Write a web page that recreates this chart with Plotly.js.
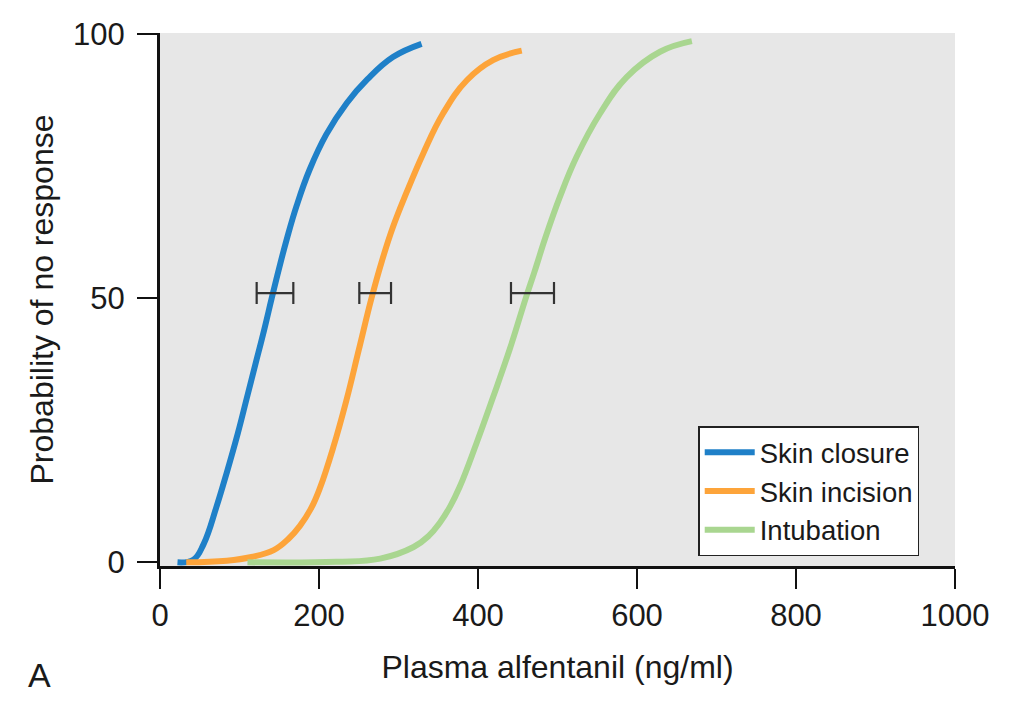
<!DOCTYPE html>
<html><head><meta charset="utf-8">
<script src="https://cdn.plot.ly/plotly-3.0.1.min.js"></script>
<style>body{margin:0;background:#fff}#chart{width:1024px;height:708px}</style>
</head><body><div id="chart"></div>
<script>
// Skin closure curve
const closureX = [22, 42, 55, 71, 84, 98, 109, 120, 131, 140.5, 150, 160, 172, 188, 209, 235, 261, 293, 329];
const closureY = [0, 0.5, 3.5, 10.5, 17, 24.5, 31, 37.5, 44, 50, 55.8, 61.5, 67.6, 74.3, 81, 87, 91.5, 95.7, 98.2];
// Skin incision curve
const incisionX = [33, 84, 115, 143, 162, 176, 190, 201, 218, 234.5, 250, 266, 279, 293, 310, 331, 356, 386, 419, 455];
const incisionY = [0, 0.3, 1, 2.3, 4.5, 6.9, 10.2, 14, 21.8, 30.7, 40.2, 50, 57, 63.5, 70, 77.4, 85, 91.3, 95.1, 96.9];
// Intubation curve
const intubationX = [110, 222, 277, 319, 338, 352, 365, 377, 398, 419, 440, 460, 471, 485, 503, 524, 553.5, 587, 629, 669];
const intubationY = [0, 0.1, 0.7, 2.9, 5, 7.5, 10.6, 14.3, 22.5, 31.3, 40.4, 50, 55, 61.6, 69.2, 76.8, 85, 91.9, 96.7, 98.7];
// C50 confidence bars
const ciCenter = [144.6, 270.6, 468.5];
const ciLevel = [51, 51, 51];
const ciLow = [121.6, 250.7, 441.5];
const ciHigh = [167.7, 290.6, 495.6];

const seriesNames = ['Skin closure', 'Skin incision', 'Intubation'];
const colors = ['#1f80c8', '#fda43a', '#a9d690'];

const fontFam = 'Liberation Sans, Arial, Helvetica, sans-serif';
const curves = [[closureX, closureY], [incisionX, incisionY], [intubationX, intubationY]];
const traces = curves.map((c, i) => ({
  type: 'scatter', mode: 'lines', x: c[0], y: c[1], name: seriesNames[i],
  line: {color: colors[i], width: 6, shape: 'spline', smoothing: 1.2},
  hoverinfo: 'x+y'
}));
traces.push({
  type: 'scatter', mode: 'markers', x: ciCenter, y: ciLevel, showlegend: false,
  marker: {size: 1, color: 'rgba(0,0,0,0)'},
  error_x: {type: 'data', symmetric: false,
    array: ciHigh.map((h, i) => h - ciCenter[i]),
    arrayminus: ciCenter.map((c, i) => c - ciLow[i]),
    color: '#333333', thickness: 2.2, width: 11}
});

const layout = {
  width: 1024, height: 708,
  margin: {l: 160, r: 69, t: 33, b: 142},
  paper_bgcolor: '#ffffff', plot_bgcolor: '#e7e7e7',
  font: {family: fontFam, color: '#1a1a1a'},
  showlegend: true,
  legend: {x: 0.677, y: 0.262, xanchor: 'left', yanchor: 'top', itemwidth: 50,
    bgcolor: '#ffffff', bordercolor: '#222222', borderwidth: 1.5,
    font: {size: 27.5, family: fontFam, color: '#1a1a1a'}, tracegroupgap: 0},
  xaxis: {range: [0, 1000], tickvals: [0, 200, 400, 600, 800, 1000],
    showline: true, linecolor: '#111111', linewidth: 3, ticks: 'outside', ticklen: 20, tickwidth: 2, tickcolor: '#111111',
    showgrid: false, zeroline: false, tickfont: {size: 31, family: fontFam, color: '#1a1a1a'},
    title: {text: 'Plasma alfentanil (ng/ml)', font: {size: 32, family: fontFam, color: '#1a1a1a'}, standoff: 24}},
  yaxis: {range: [-0.7, 100.25], tickvals: [0, 50, 100], ticklabelstandoff: 6,
    showline: true, linecolor: '#111111', linewidth: 3, ticks: 'outside', ticklen: 20, tickwidth: 2, tickcolor: '#111111',
    showgrid: false, zeroline: false, tickfont: {size: 31, family: fontFam, color: '#1a1a1a'},
    title: {text: 'Probability of no response', font: {size: 32, family: fontFam, color: '#1a1a1a'}, standoff: 10}},
  annotations: [{text: 'A', xref: 'paper', yref: 'paper', x: -0.151, y: -0.204, xanchor: 'center', yanchor: 'middle',
    showarrow: false, font: {size: 34, family: fontFam, color: '#1a1a1a'}}]
};
Plotly.newPlot('chart', traces, layout, {displayModeBar: false, staticPlot: true});
</script>
</body></html>
